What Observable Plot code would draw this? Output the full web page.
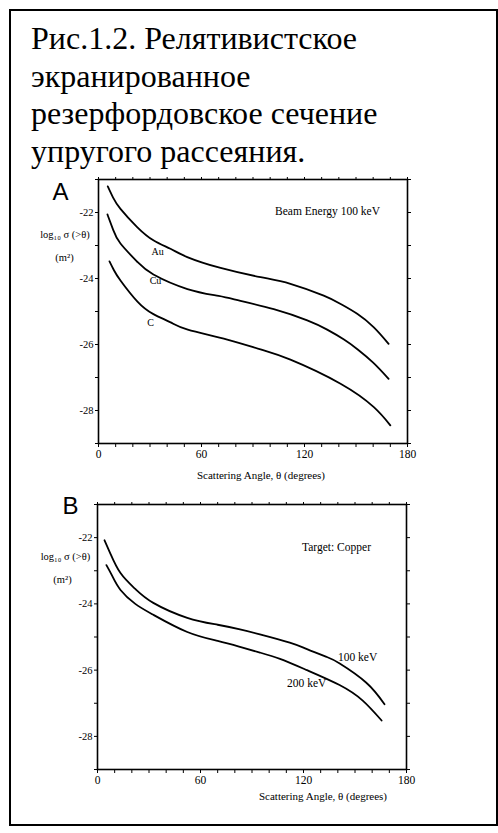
<!DOCTYPE html>
<html>
<head>
<meta charset="utf-8">
<script src="https://cdn.jsdelivr.net/npm/d3@7"></script>
<script src="https://cdn.jsdelivr.net/npm/@observablehq/plot@0.6"></script>
<style>
  html, body { margin: 0; padding: 0; background: #fff; }
  #page { position: relative; width: 498px; height: 833px; overflow: hidden; }
  #box { position: absolute; left: 9px; top: 9px; width: 489px; height: 817px; box-sizing: border-box; border: 2px solid #000; }
  #title { position: absolute; left: 31px; top: 20px; font-family: "Times New Roman", Tinos, serif; font-size: 32px; line-height: 37.7px; color: #000; white-space: nowrap; }
  .panel { position: absolute; left: 0; }
  .panel svg { background: transparent !important; overflow: visible; }
</style>
</head>
<body>
<div id="page">
  <div id="box"></div>
  <div id="title">Рис.1.2. Релятивистское<br>экранированное<br>резерфордовское сечение<br>упругого рассеяния.</div>
  <div id="panelA" class="panel" style="top:165px"></div>
  <div id="panelB" class="panel" style="top:490px"></div>
</div>
<script>
// ---- Data (angle θ in degrees, log10 σ(>θ) in m²) ----
const angleTicks = [0, 60, 120, 180];
const logTicks = [-22, -24, -26, -28];

// Panel A: Beam Energy 100 keV
const auTheta = [5.4, 8.5, 12.8, 22.5, 32.2, 41.9, 51.7, 71.1, 94.4, 111.8, 131.2, 141.0, 150.7, 160.4, 169.0];
const auLog   = [-21.21, -21.55, -21.89, -22.44, -22.85, -23.10, -23.35, -23.68, -23.96, -24.16, -24.52, -24.77, -25.07, -25.48, -25.98];
const cuTheta = [5.2, 8.5, 12.8, 22.7, 32.0, 51.8, 70.0, 82.7, 102.1, 121.6, 133.2, 143.0, 151.0, 160.0, 169.0];
const cuLog   = [-22.06, -22.52, -22.94, -23.50, -23.88, -24.32, -24.53, -24.68, -24.93, -25.27, -25.55, -25.85, -26.15, -26.55, -27.04];
const cTheta  = [6.4, 9.0, 12.8, 22.7, 32.0, 42.0, 52.0, 75.0, 94.4, 111.8, 141.0, 160.4, 170.0];
const cLog    = [-23.48, -23.75, -24.06, -24.70, -25.08, -25.33, -25.55, -25.85, -26.15, -26.46, -27.19, -27.90, -28.45];
const elementNames = ["Au", "Cu", "C"];
const elementLabelTheta = [34.4, 33.2, 30.3];
const elementLabelLog = [-23.18, -24.06, -25.33];

// Panel B: Target Copper
const e100Theta = [4.1, 7.5, 13.4, 22.0, 32.5, 52.3, 70.0, 83.0, 94.6, 112.0, 121.7, 133.4, 141.1, 156.6, 167.2];
const e100Log   = [-22.08, -22.48, -23.07, -23.55, -23.97, -24.42, -24.63, -24.77, -24.92, -25.17, -25.36, -25.60, -25.80, -26.38, -27.03];
const e200Theta = [5.2, 8.5, 13.4, 22.0, 32.5, 52.3, 70.0, 83.0, 94.6, 106.3, 122.0, 141.0, 154.5, 165.5];
const e200Log   = [-22.83, -23.15, -23.58, -24.00, -24.33, -24.85, -25.12, -25.30, -25.47, -25.66, -26.00, -26.45, -26.92, -27.52];
const energyNames = ["100 keV", "200 keV"];
const energyLabelTheta = [151.5, 121.9];
const energyLabelLog = [-25.62, -26.41];

const toRows = (th, lg, name) => th.map((t, i) => ({theta: t, log: lg[i], series: name}));
const panelARows = [...toRows(auTheta, auLog, "Au"), ...toRows(cuTheta, cuLog, "Cu"), ...toRows(cTheta, cLog, "C")];
const panelALabels = elementNames.map((n, i) => ({theta: elementLabelTheta[i], log: elementLabelLog[i], name: n}));
const panelBRows = [...toRows(e100Theta, e100Log, "100 keV"), ...toRows(e200Theta, e200Log, "200 keV")];
const panelBLabels = energyNames.map((n, i) => ({theta: energyLabelTheta[i], log: energyLabelLog[i], name: n}));

const minorX = d3.range(0, 181, 10);
const minorY = d3.range(-29, -20, 1);
const SERIF = "'Times New Roman', Tinos, serif";

function panel(rows, labels, opts) {
  const ann = {textAnchor: "middle", lineAnchor: "middle", fill: "#000", fontFamily: SERIF};
  return Plot.plot({
    width: 498,
    height: opts.height,
    marginLeft: opts.left,
    marginRight: 498 - opts.right,
    marginTop: 14,
    marginBottom: 40,
    style: {fontFamily: SERIF, fontSize: "11px", color: "#000", background: "transparent", overflow: "visible"},
    x: {domain: [0, 180]},
    y: {domain: [-29, -21]},
    marks: [
      Plot.axisX({anchor: "bottom", ticks: minorX, tickSize: 4, tickPadding: 2, tickFormat: d => angleTicks.includes(d) ? String(d) : "", label: null, fontSize: 11.5, fontFamily: SERIF}),
      Plot.axisX({anchor: "top", ticks: minorX, tickSize: 3, tickFormat: () => "", label: null}),
      Plot.axisY({anchor: "left", ticks: minorY, tickSize: 3, tickPadding: 2, tickFormat: d => logTicks.includes(d) ? String(d) : "", label: null, fontSize: 10.5, fontFamily: SERIF}),
      Plot.axisY({anchor: "right", ticks: minorY, tickSize: 3, tickFormat: () => "", label: null}),
      Plot.frame({stroke: "#000", strokeWidth: 1.6}),
      Plot.line(rows, {x: "theta", y: "log", z: "series", stroke: "#000", strokeWidth: 1.8, curve: "natural"}),
      Plot.text(labels, {x: "theta", y: "log", text: "name", fontSize: opts.labelSize, ...ann}),
      Plot.text([opts.note], {frameAnchor: "top-left", dx: opts.noteDx, dy: opts.noteDy, fontSize: 11.5, ...ann}),
      Plot.text(["log₁₀ σ (>θ)"], {frameAnchor: "top-left", dx: opts.ylDx, dy: opts.ylDy, fontSize: 10.5, ...ann}),
      Plot.text(["(m²)"], {frameAnchor: "top-left", dx: opts.mDx, dy: opts.ylDy + 23, fontSize: 10.5, ...ann}),
      Plot.text(["Scattering Angle, θ (degrees)"], {frameAnchor: "bottom", dx: opts.xtDx, dy: opts.xtDy, fontSize: 11, ...ann}),
      Plot.text([opts.letter], {frameAnchor: "top-left", dx: opts.letterDx, dy: opts.letterDy, textAnchor: "middle", lineAnchor: "bottom", fontSize: 24, fontFamily: "'Liberation Sans', Arial, sans-serif", fill: "#000"})
    ]
  });
}

document.getElementById("panelA").appendChild(panel(panelARows, panelALabels, {
  height: 318, left: 98, right: 407, labelSize: 10,
  note: "Beam Energy 100 keV", noteDx: 229, noteDy: 32,
  ylDx: -33.5, mDx: -34, ylDy: 55, xtDx: 8, xtDy: 32,
  letter: "A", letterDx: -38, letterDy: 20
}));
document.getElementById("panelB").appendChild(panel(panelBRows, panelBLabels, {
  height: 319, left: 97, right: 406, labelSize: 11.5,
  note: "Target: Copper", noteDx: 239, noteDy: 43,
  ylDx: -32, mDx: -35, ylDy: 52, xtDx: 71, xtDy: 27,
  letter: "B", letterDx: -27, letterDy: 9
}));
</script>
</body>
</html>
